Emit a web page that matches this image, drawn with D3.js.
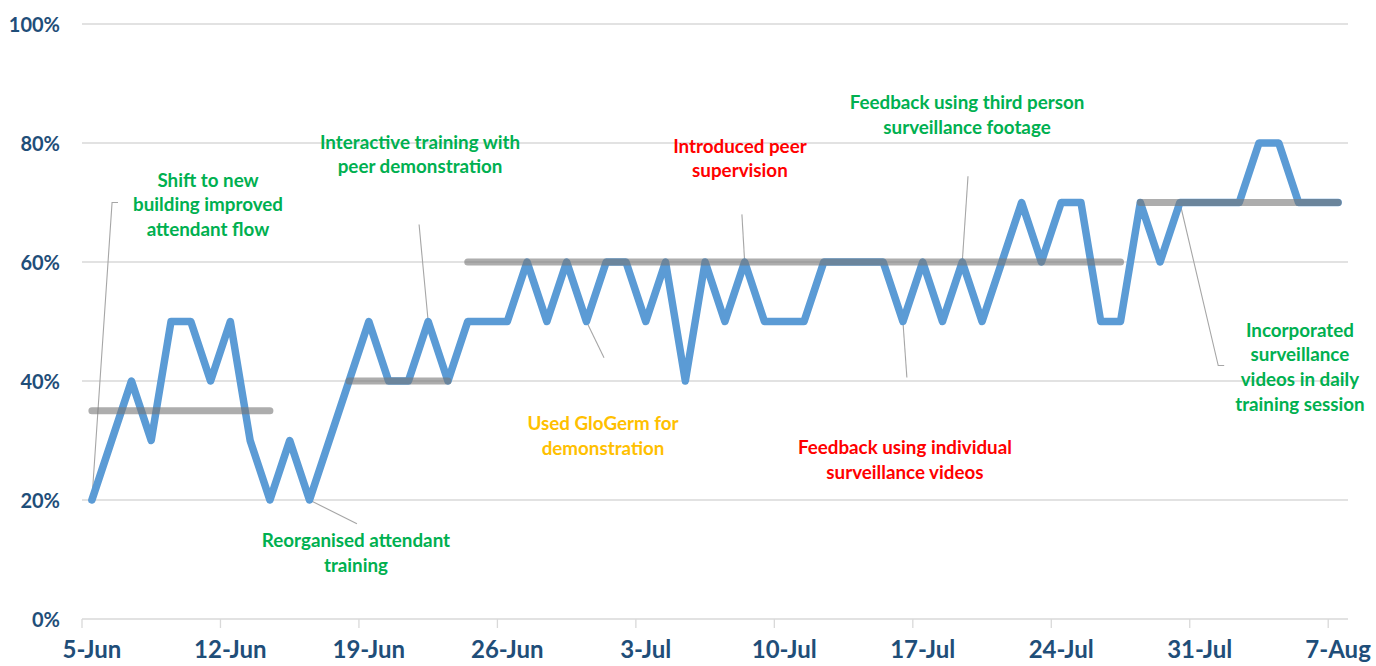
<!DOCTYPE html>
<html>
<head>
<meta charset="utf-8">
<script src="https://cdn.jsdelivr.net/npm/d3@7"></script>
<style>
  html, body { margin: 0; padding: 0; background: #fff; }
  svg { display: block; }
  text { font-family: Lato, "Open Sans", sans-serif; font-weight: 700; }
</style>
</head>
<body>
<svg id="chart" width="1376" height="666"></svg>
<script>
// ---- Data ----
const startDay = "2017-06-05";
// daily compliance (%) from 5-Jun to 7-Aug
const compliance = [
  20, 30, 40, 30, 50, 50, 40, 50, 30, 20,
  30, 20, 30, 40, 50, 40, 40, 50, 40, 50,
  50, 50, 60, 50, 60, 50, 60, 60, 50, 60,
  40, 60, 50, 60, 50, 50, 50, 60, 60, 60,
  60, 50, 60, 50, 60, 50, 60, 70, 60, 70,
  70, 50, 50, 70, 60, 70, 70, 70, 70, 80,
  80, 70, 70, 70
];
// median segments (day index from, day index to, value %)
const medianFrom = [0, 13, 19, 53];
const medianTo = [9, 18, 52, 63];
const medianValue = [35, 40, 60, 70];

const xTickLabels = ["5-Jun", "12-Jun", "19-Jun", "26-Jun", "3-Jul", "10-Jul", "17-Jul", "24-Jul", "31-Jul", "7-Aug"];
const yTicks = [0, 20, 40, 60, 80, 100];

// annotations: text lines, colour kind, anchor day index, label position (day, %), leader end (day, %)
const annoText = [
  ["Shift to new", "building improved", "attendant flow"],
  ["Reorganised attendant", "training"],
  ["Interactive training with", "peer demonstration"],
  ["Used GloGerm for", "demonstration"],
  ["Introduced peer", "supervision"],
  ["Feedback using individual", "surveillance videos"],
  ["Feedback using third person", "surveillance footage"],
  ["Incorporated", "surveillance", "videos in daily", "training session"]
];
const annoKind = ["green", "green", "green", "gold", "red", "red", "green", "green"];
const annoAnchorDay = [0, 11, 17, 25, 33, 41, 44, 55];
const annoLabelDay = [5.87, 13.35, 16.59, 25.84, 32.76, 41.1, 44.24, 61.07];
const annoLabelPct = [73.9, 13.3, 80.3, 33.0, 79.6, 29.0, 86.9, 48.7];
const annoLeaderDay = [1.02, 13.4, 16.54, 25.89, 32.86, 41.2, 44.29, 56.94];
const annoLeaderPct = [70.0, 16.0, 66.3, 43.9, 68.0, 40.6, 74.4, 42.6];
const annoElbowDay = [1.32, null, null, null, null, null, null, 57.24];

// ---- Drawing ----
const colors = { green: "#00b050", red: "#ff0000", gold: "#ffc000" };
const svg = d3.select("#chart");
const dayMs = 864e5;
const t0 = new Date(startDay + "T00:00:00Z");
const nDays = compliance.length;
const dayDate = d => new Date(t0.getTime() + d * dayMs);

const x = d3.scaleUtc().domain([t0, dayDate(nDays)]).range([82, 1348]);
const y = d3.scaleLinear().domain([0, 100]).range([619, 24]);
const xc = d => x(dayDate(d + 0.5)); // centre of day bin

// gridlines
svg.append("g").selectAll("line").data(yTicks).join("line")
  .attr("x1", 82).attr("x2", 1348)
  .attr("y1", d => y(d)).attr("y2", d => y(d))
  .attr("stroke", "#d9d9d9").attr("stroke-width", 1.3);

// y labels
svg.append("g").selectAll("text").data(yTicks).join("text")
  .attr("x", 60).attr("y", d => y(d))
  .attr("text-anchor", "end").attr("dominant-baseline", "central")
  .attr("fill", "#1f4e79").attr("font-size", 20)
  .text(d => d + "%");

// x axis ticks
const weekBounds = d3.range(0, nDays, 7);
svg.append("g").selectAll("line").data(weekBounds).join("line")
  .attr("x1", d => x(dayDate(d))).attr("x2", d => x(dayDate(d)))
  .attr("y1", 619).attr("y2", 628)
  .attr("stroke", "#d9d9d9").attr("stroke-width", 1.3);

svg.append("g").selectAll("text").data(xTickLabels).join("text")
  .attr("x", (d, i) => xc(weekBounds[i]))
  .attr("y", 658)
  .attr("text-anchor", "middle")
  .attr("fill", "#1f4e79").attr("font-size", 24)
  .text(d => d);

// leader lines
const leaders = svg.append("g").attr("fill", "none").attr("stroke", "#a6a6a6").attr("stroke-width", 1.1);
annoText.forEach((lines, i) => {
  const pts = [[xc(annoAnchorDay[i]), y(compliance[annoAnchorDay[i]])],
               [xc(annoLeaderDay[i]), y(annoLeaderPct[i])]];
  if (annoElbowDay[i] !== null) pts.push([xc(annoElbowDay[i]), y(annoLeaderPct[i])]);
  leaders.append("path").attr("d", d3.line()(pts));
});

// compliance line
svg.append("path")
  .datum(compliance)
  .attr("fill", "none")
  .attr("stroke", "#5b9bd5")
  .attr("stroke-width", 7.5)
  .attr("stroke-linejoin", "round")
  .attr("stroke-linecap", "round")
  .attr("d", d3.line().x((d, i) => xc(i)).y(d => y(d)));

// median segments
svg.append("g").selectAll("line").data(medianValue).join("line")
  .attr("x1", (d, i) => xc(medianFrom[i])).attr("x2", (d, i) => xc(medianTo[i]))
  .attr("y1", d => y(d)).attr("y2", d => y(d))
  .attr("stroke", "#777777").attr("stroke-opacity", 0.6)
  .attr("stroke-width", 7).attr("stroke-linecap", "round");

// annotation labels
annoText.forEach((lines, i) => {
  const t = svg.append("text")
    .attr("text-anchor", "middle")
    .attr("fill", colors[annoKind[i]])
    .attr("font-size", 18.8);
  lines.forEach((ln, j) => {
    t.append("tspan")
      .attr("x", xc(annoLabelDay[i]))
      .attr("y", y(annoLabelPct[i]) + j * 24.6)
      .attr("dominant-baseline", "central")
      .text(ln);
  });
});
</script>
</body>
</html>
